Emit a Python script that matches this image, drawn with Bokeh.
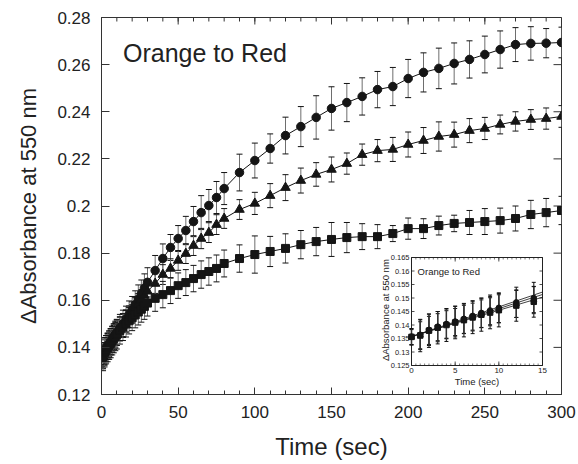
import math
from bokeh.plotting import figure
from bokeh.models import Range1d, FixedTicker, Label, Title, CustomJSTickFormatter
from bokeh.core.properties import value
from bokeh.embed import file_html
from bokeh.resources import INLINE

FONT = "Liberation Sans"

# ---------------- data (main panel) ----------------
time_s = [0, 1, 2, 3, 4, 5, 6, 7, 8, 9, 10,
          12, 14, 16, 18, 20, 22, 24, 26, 28, 30,
          35, 40, 45, 50, 55, 60, 65, 70, 75, 80,
          90, 100, 110, 120, 130, 140, 150, 160, 170, 180, 190, 200,
          210, 220, 230, 240, 250, 260, 270, 280, 290, 300]

circle_val = [0.1357, 0.1364, 0.1382, 0.1394, 0.1404, 0.1413, 0.1423, 0.1434, 0.1445, 0.1454, 0.1464,
              0.1484, 0.1500, 0.1520, 0.1540, 0.1560, 0.1582, 0.1605, 0.1628, 0.1652, 0.1676,
              0.1726, 0.1777, 0.1824, 0.1862, 0.1896, 0.1934, 0.1972, 0.2002, 0.2036, 0.2074,
              0.2142, 0.2193, 0.2244, 0.2299, 0.2337, 0.2376, 0.2414, 0.2439, 0.2465, 0.2494, 0.2507, 0.2541,
              0.2567, 0.2584, 0.2605, 0.2622, 0.2643, 0.2664, 0.2685, 0.2690, 0.2691, 0.2694]
circle_err = [0.0030, 0.0055, 0.0058, 0.0056, 0.0055, 0.0057, 0.0055, 0.0056, 0.0055, 0.0057, 0.0055,
              0.0056, 0.0058, 0.0055, 0.0057, 0.0056, 0.0058, 0.0060, 0.0058, 0.0060, 0.0062,
              0.0064, 0.0062, 0.0055, 0.0055, 0.0060, 0.0064, 0.0072, 0.0068, 0.0068, 0.0068,
              0.0078, 0.0074, 0.0062, 0.0078, 0.0085, 0.0092, 0.0092, 0.0081, 0.0079, 0.0077, 0.0081, 0.0081,
              0.0083, 0.0086, 0.0087, 0.0079, 0.0078, 0.0079, 0.0072, 0.0071, 0.0062, 0.0065]

triangle_val = [0.1355, 0.1362, 0.1380, 0.1392, 0.1402, 0.1411, 0.1421, 0.1431, 0.1442, 0.1451, 0.1460,
                0.1478, 0.1494, 0.1512, 0.1530, 0.1548, 0.1566, 0.1584, 0.1602, 0.1620, 0.1638,
                0.1671, 0.1709, 0.1735, 0.1769, 0.1798, 0.1832, 0.1862, 0.1887, 0.1921, 0.1947,
                0.1985, 0.2011, 0.2044, 0.2078, 0.2108, 0.2134, 0.2155, 0.2180, 0.2218, 0.2235, 0.2240, 0.2261,
                0.2278, 0.2295, 0.2303, 0.2320, 0.2329, 0.2346, 0.2359, 0.2367, 0.2371, 0.2380]
triangle_err = [0.0028, 0.0050, 0.0052, 0.0050, 0.0051, 0.0050, 0.0052, 0.0050, 0.0051, 0.0050, 0.0052,
                0.0050, 0.0048, 0.0047, 0.0046, 0.0045, 0.0045, 0.0044, 0.0043, 0.0043, 0.0042,
                0.0042, 0.0042, 0.0041, 0.0042, 0.0042, 0.0042, 0.0043, 0.0042, 0.0042, 0.0042,
                0.0042, 0.0047, 0.0051, 0.0055, 0.0053, 0.0050, 0.0053, 0.0045, 0.0045, 0.0047, 0.0051, 0.0053,
                0.0055, 0.0062, 0.0053, 0.0051, 0.0047, 0.0040, 0.0041, 0.0042, 0.0045, 0.0046]

square_val = [0.1356, 0.1361, 0.1379, 0.1390, 0.1400, 0.1409, 0.1418, 0.1428, 0.1438, 0.1446, 0.1455,
              0.1472, 0.1486, 0.1500, 0.1513, 0.1526, 0.1538, 0.1550, 0.1562, 0.1574, 0.1588,
              0.1608, 0.1624, 0.1641, 0.1662, 0.1675, 0.1692, 0.1709, 0.1722, 0.1735, 0.1756,
              0.1777, 0.1794, 0.1807, 0.1820, 0.1836, 0.1849, 0.1858, 0.1866, 0.1870, 0.1870, 0.1883, 0.1904,
              0.1904, 0.1917, 0.1926, 0.1930, 0.1934, 0.1938, 0.1947, 0.1964, 0.1972, 0.1981]
square_err = [0.0030, 0.0060, 0.0062, 0.0060, 0.0061, 0.0060, 0.0062, 0.0060, 0.0061, 0.0060, 0.0062,
              0.0058, 0.0057, 0.0056, 0.0056, 0.0055, 0.0055, 0.0055, 0.0055, 0.0055, 0.0055,
              0.0055, 0.0056, 0.0055, 0.0054, 0.0055, 0.0056, 0.0058, 0.0058, 0.0057, 0.0057,
              0.0058, 0.0079, 0.0064, 0.0062, 0.0060, 0.0060, 0.0072, 0.0064, 0.0055, 0.0051, 0.0034, 0.0045,
              0.0042, 0.0040, 0.0035, 0.0051, 0.0055, 0.0053, 0.0053, 0.0060, 0.0060, 0.0060]

x_ticks = [0, 50, 100, 150, 200, 250, 300]
x_minor = [0, 10, 20, 30, 40, 50, 60, 70, 80, 90, 100, 110, 120, 130, 140, 150, 160, 170, 180, 190,
           200, 210, 220, 230, 240, 250, 260, 270, 280, 290, 300]
y_ticks = [0.12, 0.14, 0.16, 0.18, 0.20, 0.22, 0.24, 0.26, 0.28]

# ---------------- data (inset) ----------------
inset_t = [0, 1, 2, 3, 4, 5, 6, 7, 8, 9, 10, 12, 14]
inset_circle = [0.1357, 0.1364, 0.1382, 0.1394, 0.1404, 0.1413, 0.1423, 0.1434, 0.1445, 0.1454, 0.1464, 0.1484, 0.1500]
inset_circle_err = [0.0030, 0.0055, 0.0058, 0.0056, 0.0055, 0.0057, 0.0055, 0.0056, 0.0055, 0.0057, 0.0055, 0.0056, 0.0058]
inset_triangle = [0.1355, 0.1362, 0.1380, 0.1392, 0.1402, 0.1411, 0.1421, 0.1431, 0.1442, 0.1451, 0.1460, 0.1478, 0.1494]
inset_triangle_err = [0.0028, 0.0050, 0.0052, 0.0050, 0.0051, 0.0050, 0.0052, 0.0050, 0.0051, 0.0050, 0.0052, 0.0050, 0.0048]
inset_square = [0.1356, 0.1361, 0.1379, 0.1390, 0.1400, 0.1409, 0.1418, 0.1428, 0.1438, 0.1446, 0.1455, 0.1472, 0.1486]
inset_square_err = [0.0030, 0.0060, 0.0062, 0.0060, 0.0061, 0.0060, 0.0062, 0.0060, 0.0061, 0.0060, 0.0062, 0.0058, 0.0057]
fit_t = [0, 15]
fit_circle = [0.1357, 0.1522]
fit_triangle = [0.1356, 0.1513]
fit_square = [0.1358, 0.1503]
inset_x_ticks = [0, 5, 10, 15]
inset_x_labels = ["0", "5", "10", "15"]
inset_x_minor = [0.5 * i for i in range(31)]
inset_y_ticks = [0.125, 0.13, 0.135, 0.14, 0.145, 0.15, 0.155, 0.16, 0.165]
inset_y_labels = ["0.125", "0.13", "0.135", "0.14", "0.145", "0.15", "0.155", "0.16", "0.165"]

# ---------------- figure ----------------
FL, FT, FW, FH = 101, 17, 460, 377
p = figure(frame_width=FW, frame_height=FH,
           min_border_left=FL, min_border_right=16, min_border_top=FT, min_border_bottom=68,
           x_range=Range1d(0, 300), y_range=Range1d(0.12, 0.28),
           output_backend="svg", toolbar_location=None,
           background_fill_color="white", border_fill_color="white")
p.outline_line_color = "#333333"
p.outline_line_width = 1
p.xgrid.visible = False
p.ygrid.visible = False

AX = "#333333"


def style_axis(ax):
    ax.axis_line_color = AX
    ax.axis_line_width = 1
    ax.major_tick_line_color = AX
    ax.minor_tick_line_color = AX
    ax.major_tick_in = 7
    ax.major_tick_out = 0
    ax.minor_tick_in = 4
    ax.minor_tick_out = 0
    ax.major_label_text_font = FONT
    ax.major_label_text_color = "#222222"
    ax.major_label_text_font_size = "17px"
    ax.major_label_standoff = 11
    ax.axis_label_text_font = FONT
    ax.axis_label_text_font_style = "normal"
    ax.axis_label_text_color = "#222222"


bx = p.below[0]
bx.ticker = FixedTicker(ticks=x_ticks, minor_ticks=x_minor)
style_axis(bx)
bx.axis_label = "Time (sec)"
bx.axis_label_text_font_size = "24px"
bx.axis_label_standoff = 12

ly = p.left[0]
ly.ticker = FixedTicker(ticks=y_ticks, minor_ticks=[])
ly.formatter = CustomJSTickFormatter(code="return String(Math.round(tick*100)/100);")
style_axis(ly)
ly.major_tick_in = 8

# y-axis title: a side title on the left, shifted up a little
p.add_layout(Title(text="\u0394Absorbance at 550 nm", align="center", offset=15,
                   text_font=FONT, text_font_size="22px", text_font_style="normal",
                   text_color="#222222", standoff=27), "left")

# mirrored ticks on top and right edges of the frame
nx, nmx, ny = len(x_ticks), len(x_minor), len(y_ticks)
p.ray(x=x_ticks, y=[0.28] * nx, length=7, angle=-math.pi / 2, length_units="screen",
      line_color=AX, line_width=1)
p.ray(x=x_minor, y=[0.28] * nmx, length=4, angle=-math.pi / 2, length_units="screen",
      line_color=AX, line_width=1)
p.ray(x=[300] * ny, y=y_ticks, length=8, angle=math.pi, length_units="screen",
      line_color=AX, line_width=1)

# ---- main series ----
series = [
    (circle_val, circle_err, "circle", 8.5),
    (triangle_val, triangle_err, "triangle", 9.5),
    (square_val, square_err, "square", 8),
]
for vals, errs, mk, sz in series:
    p.line(time_s, vals, line_color="#111111", line_width=1)
for vals, errs, mk, sz in series:
    lo = [v - e for v, e in zip(vals, errs)]
    hi = [v + e for v, e in zip(vals, errs)]
    p.segment(x0=time_s, y0=lo, x1=time_s, y1=hi, line_color="#6e6e6e", line_width=1)
    p.scatter(x=time_s + time_s, y=lo + hi, marker="dash", size=6,
              line_color="#111111", line_width=1)
for vals, errs, mk, sz in series:
    p.scatter(time_s, vals, marker=mk, size=sz, fill_color="#151515", line_color="#151515")

p.add_layout(Label(x=14, y=0.2651, text="Orange to Red", text_font=FONT,
                   text_font_size="25px", text_color="#222222",
                   text_align="left", text_baseline="alphabetic"))

# ---------------- inset (placed via extra ranges) ----------------
IL, IR, IT, IB = 411, 542, 257, 365          # inset frame in page pixels
FR, FB = FL + FW, FT + FH
ix0, ix1 = 0.0, 15.0
iy0, iy1 = 0.125, 0.165
sx = (IR - IL) / (ix1 - ix0)
sy = (IB - IT) / (iy1 - iy0)
p.extra_x_ranges = {"ix": Range1d(ix0 - (IL - FL) / sx, ix1 + (FR - IR) / sx)}
p.extra_y_ranges = {"iy": Range1d(iy0 - (FB - IB) / sy, iy1 + (IT - FT) / sy)}
R = dict(x_range_name="ix", y_range_name="iy")

p.quad(left=[ix0], right=[ix1], bottom=[iy0], top=[iy1], fill_color="white",
       line_color="#222222", line_width=1, **R)

p.ray(x=inset_x_ticks, y=[iy0] * 4, length=4, angle=math.pi / 2, length_units="screen",
      line_color="#222222", line_width=0.8, **R)
p.ray(x=inset_x_ticks, y=[iy1] * 4, length=4, angle=-math.pi / 2, length_units="screen",
      line_color="#222222", line_width=0.8, **R)
n = len(inset_x_minor)
p.ray(x=inset_x_minor, y=[iy0] * n, length=2, angle=math.pi / 2, length_units="screen",
      line_color="#222222", line_width=0.6, **R)
p.ray(x=inset_x_minor, y=[iy1] * n, length=2, angle=-math.pi / 2, length_units="screen",
      line_color="#222222", line_width=0.6, **R)
m = len(inset_y_ticks)
p.ray(x=[ix0] * m, y=inset_y_ticks, length=3, angle=0, length_units="screen",
      line_color="#222222", line_width=0.8, **R)
p.ray(x=[ix1] * m, y=inset_y_ticks, length=3, angle=math.pi, length_units="screen",
      line_color="#222222", line_width=0.8, **R)

p.text(x=inset_x_ticks, y=[iy0] * 4, text=inset_x_labels, text_font=value(FONT),
       text_font_size=value("8px"), text_color="#222222", text_align="center",
       text_baseline="top", y_offset=2, **R)
p.text(x=[ix0] * m, y=inset_y_ticks, text=inset_y_labels, text_font=value(FONT),
       text_font_size=value("7.5px"), text_color="#222222", text_align="right",
       text_baseline="middle", x_offset=-2, **R)
p.text(x=[7.5], y=[iy0], text=["Time (sec)"], text_font=value(FONT),
       text_font_size=value("9.5px"), text_color="#222222", text_align="center",
       text_baseline="top", y_offset=10, **R)
p.text(x=[ix0], y=[0.1455], text=["\u0394Absorbance at 550 nm"], text_font=value(FONT),
       text_font_size=value("9.5px"), text_color="#222222", text_align="center",
       text_baseline="bottom", angle=math.pi / 2, x_offset=-21, **R)
p.text(x=[0.7], y=[0.1599], text=["Orange to Red"], text_font=value(FONT),
       text_font_size=value("9.5px"), text_color="#222222", text_align="left",
       text_baseline="alphabetic", **R)

inset_series = [
    (inset_circle, inset_circle_err, fit_circle, "circle", 5.5),
    (inset_triangle, inset_triangle_err, fit_triangle, "triangle", 6),
    (inset_square, inset_square_err, fit_square, "square", 5.5),
]
for vals, errs, fit, mk, sz in inset_series:
    p.line(fit_t, fit, line_color="#111111", line_width=0.8, **R)
for vals, errs, fit, mk, sz in inset_series:
    lo = [v - e for v, e in zip(vals, errs)]
    hi = [v + e for v, e in zip(vals, errs)]
    p.segment(x0=inset_t, y0=lo, x1=inset_t, y1=hi, line_color="#333333", line_width=1.2, **R)
    p.scatter(x=inset_t + inset_t, y=lo + hi, marker="dash", size=4,
              line_color="#111111", line_width=1, **R)
for vals, errs, fit, mk, sz in inset_series:
    p.scatter(inset_t, vals, marker=mk, size=sz, fill_color="#151515", line_color="#151515", **R)

open("out.html", "w").write(file_html(p, INLINE))
